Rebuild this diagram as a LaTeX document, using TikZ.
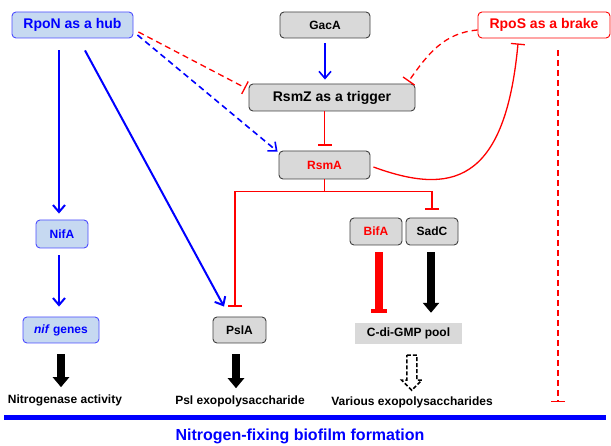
\documentclass[tikz,border=0pt]{standalone}
\usepackage{fontspec}
\setmainfont{Liberation Sans}
\usetikzlibrary{arrows.meta,positioning,calc}
\definecolor{HubBlue}{HTML}{0000FF}
\definecolor{HubFill}{HTML}{C6D9F1}
\definecolor{BrakeRed}{HTML}{FF0000}
\definecolor{BoxGray}{HTML}{D9D9D9}
\definecolor{EdgeGray}{HTML}{404040}

\begin{document}
\begin{tikzpicture}[x=1pt, y=-1pt,
    box/.style={draw=EdgeGray, fill=BoxGray, rounded corners=4pt, line width=0.9pt, inner sep=0pt, font=\fontsize{12}{14}\selectfont\bfseries},
    bigbox/.style={box, font=\fontsize{14}{16}\selectfont\bfseries},
    hubbox/.style={draw=HubBlue!70, fill=HubFill, text=HubBlue},
    caption/.style={inner sep=1pt, font=\fontsize{12}{14}\selectfont\bfseries},
    act/.style={-{Straight Barb[length=7pt,width=12pt]}, draw=HubBlue, line width=2pt},
    inh/.style={-{Bar[width=14pt]}, draw=BrakeRed, line width=1.3pt},
    dsh/.style={dash pattern=on 6pt off 4pt},
    fat/.style={-{Triangle[length=10pt,width=16pt]}, line width=8pt},
    fatinh/.style={-{Bar[width=16pt,line width=4pt]}, draw=BrakeRed, line width=8pt}
  ]
    \useasboundingbox (0,0) rectangle (611,446);

    % Top row
    \node[bigbox, hubbox, minimum width=121pt, minimum height=26pt] (rpon) at (72.5,25) {RpoN as a hub};
    \node[box, minimum width=90pt, minimum height=26pt] (gaca) at (325,25) {GacA};
    \node[bigbox, draw=BrakeRed, fill=white, text=BrakeRed, minimum width=132pt, minimum height=26pt] (rpos) at (544,25) {RpoS as a brake};

    % Rsm cascade
    \node[bigbox, minimum width=166pt, minimum height=27pt] (rsmz) at (332,97.5) {RsmZ as a trigger};
    \node[box, text=BrakeRed, minimum width=91pt, minimum height=28pt] (rsma) at (324.5,165) {RsmA};

    % Targets
    \node[box, hubbox, minimum width=52pt, minimum height=28pt] (nifa) at (62,234) {NifA};
    \node[box, hubbox, minimum width=76pt, minimum height=26pt] (nif) at (61,330) {\textit{nif} genes};
    \node[box, minimum width=53pt, minimum height=26pt] (psla) at (239.5,330) {PslA};
    \node[box, text=BrakeRed, minimum width=52pt, minimum height=27pt] (bifa) at (376,231.5) {BifA};
    \node[box, minimum width=52pt, minimum height=27pt] (sadc) at (432,231.5) {SadC};
    \node[caption, fill=BoxGray, minimum width=107pt, minimum height=21pt] (cdi) at (408.5,333.5) {C-di-GMP pool};

    % Outputs
    \node[caption] (nitro) at (65,400) {Nitrogenase activity};
    \node[caption] (pslx) at (240,401) {Psl exopolysaccharide};
    \node[caption] (eps) at (412,402) {Various exopolysaccharides};
    \coordinate (brake) at (558,402);

    % RpoN links
    \draw[act] ($(rpon.south)+(-13.5,12)$) coordinate (n0) -- (n0 |- nifa.north) [shorten >=6pt];
    \draw[act] ($(nifa.south)+(-3,7)$) -- ($(nif.north)+(-2,-10)$);
    \draw[act] ($(rpon.south)+(12.5,12)$) -- ($(psla.north)+(-15.5,-10)$);
    \draw[inh, dsh] ($(rpon.east)+(5,7)$) -- ($(rsmz.west)+(-3,-9.5)$);
    \draw[act, dsh, line width=1.6pt] ($(rpon.east)+(4,10)$) -- ($(rsma.north west)+(-1,1)$);

    % GacA / Rsm
    \draw[act, line width=1.6pt] ($(gaca.south)+(0,5)$) -- ($(gaca.south |- rsmz.north)+(0,-4)$);
    \draw[inh] (rsma.north |- rsmz.south) -- ($(rsma.north)+(0,-5)$);
    \draw[inh] (rsma.south) -- ++(0,12) -| ($(psla.north)+(-4.5,-10)$);
    \draw[inh] (rsma.south) -- ++(0,12) -| ($(sadc.north)+(0,-8)$);

    % RpoS links
    \draw[inh, dsh] ($(rpos.west)+(0,5)$) to[out=185, in=55] ($(rsmz.north east)+(-7,-2)$);
    \draw[inh] ($(rsma.east)+(3,2)$) .. controls (450,195) and (505,185) .. ($(rpos.south)+(-26,5)$);
    \draw[inh, dsh] ($(rpos.south)+(14,12)$) -- (brake);

    % c-di-GMP
    \draw[fatinh] ($(bifa.south)+(3,7)$) -- ($(bifa.south |- cdi.north)+(3,-10)$);
    \draw[fat] ($(sadc.south)+(-1,7)$) -- ($(sadc.south |- cdi.north)+(-1,-10)$);
    \coordinate (h) at ($(cdi.south)!0.5!(eps.north)+(1.5,0)$);
    \draw[dash pattern=on 4pt off 2pt, line width=1.5pt, line join=miter]
      ($(h)+(-5,-14.5)$) -- ($(h)+(5,-14.5)$) -- ($(h)+(5,10.5)$) -- ($(h)+(10,10.5)$)
      -- ($(h)+(0,20.5)$) -- ($(h)+(-10,10.5)$) -- ($(h)+(-5,10.5)$) -- cycle;

    % Output arrows
    \draw[fat] ($(nif.south)+(0,11)$) -- ($(nif.south |- nitro.north)+(0,-6)$);
    \draw[fat] ($(psla.south)+(-3.5,11)$) -- ($(psla.south |- pslx.north)+(-3.5,-6)$);

    % Bottom line
    \draw[HubBlue, line width=5pt] (4,418) -- (606,418);
    \node[font=\fontsize{16}{18}\selectfont\bfseries, text=HubBlue] (title) at (300,436) {Nitrogen-fixing biofilm formation};
\end{tikzpicture}
\end{document}
